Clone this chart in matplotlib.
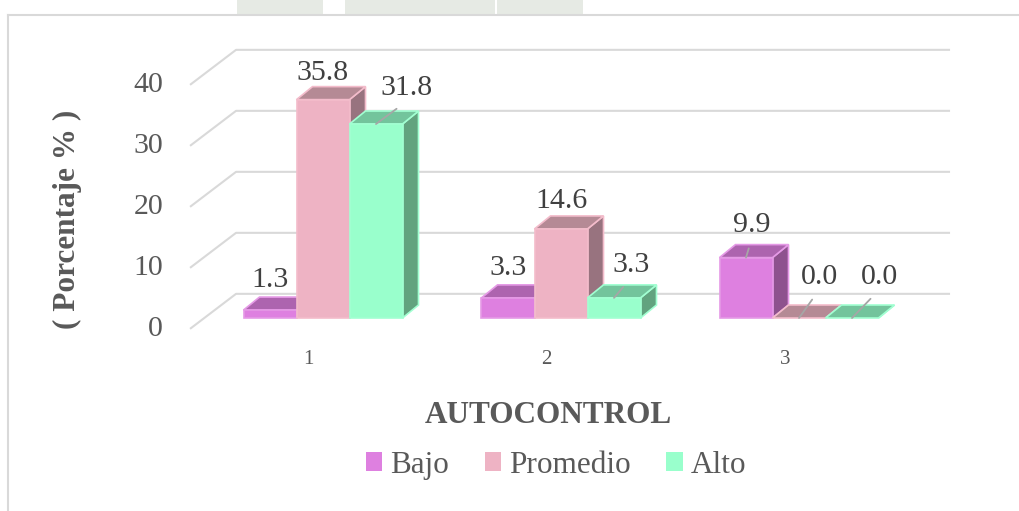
import matplotlib.pyplot as plt
from matplotlib.patches import Polygon, Patch, Rectangle
from matplotlib.lines import Line2D
import numpy as np

# data
categories = ['1', '2', '3']
series_names = ['Bajo', 'Promedio', 'Alto']
bajo = [1.3, 3.3, 9.9]
promedio = [35.8, 14.6, 0.0]
alto = [31.8, 3.3, 0.0]
yticks = [0, 10, 20, 30, 40]
x_title = 'AUTOCONTROL'
y_title = '( Porcentaje % )'

# face colours: front, top, side
colors = {
    'Bajo': ('#DE80E0', '#AD64AF', '#8E528E'),
    'Promedio': ('#EEB3C4', '#B58A95', '#98737F'),
    'Alto': ('#99FFCC', '#73C49C', '#62A37F'),
}
edge_colors = {'Bajo': '#E59AE6', 'Promedio': '#F3BCCB', 'Alto': '#A2FFD2'}

# label offsets (pixels) and leader-line flags, per series per category
label_offsets = {
    'Bajo': [(0, 30), (0, 30), (6, 33)],
    'Promedio': [(0, 27), (1, 28), (20, 41)],
    'Alto': [(31, 36), (17, 33), (27, 41)],
}
leaders = {
    'Bajo': [False, False, True],
    'Promedio': [False, False, True],
    'Alto': [True, True, True],
}

W_PX, H_PX = 1019, 511
PX_X = 238.0   # pixels per category step
PX_Y = 6.1     # pixels per percent
X0_PX, Y0_PX = 323, 318   # pixel position of category 1 / value 0 on bar front plane

depth_x, depth_y = 46 / PX_X, 35 / PX_Y   # full floor depth
front_frac = 0.31                         # bar front plane within floor depth
bar_dx, bar_dy = 16 / PX_X, 13 / PX_Y     # bar depth
bar_w = 53 / PX_X
floor_left = -0.357 + 190 / PX_X
floor_right = -0.357 + 904 / PX_X

text_col = '#595959'
font = 'Liberation Serif'

fig = plt.figure(figsize=(W_PX / 100, H_PX / 100), dpi=100)
ax = fig.add_axes([0, 0, 1, 1])
ax.set_xlim(1 - X0_PX / PX_X, 1 + (W_PX - X0_PX) / PX_X)
ax.set_ylim(-(H_PX - Y0_PX) / PX_Y, Y0_PX / PX_Y)
ax.axis('off')

# chart border and faint page watermark strip above it
for left, width in [(237, 86), (345, 150), (497, 86)]:
    fig.add_artist(Rectangle((left / W_PX, 1 - 14 / H_PX), width / W_PX, 14 / H_PX,
                             transform=fig.transFigure, color='#E6EAE4', lw=0))
fig.add_artist(Line2D([8 / W_PX, 1], [1 - 15 / H_PX] * 2, transform=fig.transFigure,
                      color='#D9D9D9', lw=1.5))
fig.add_artist(Line2D([8 / W_PX] * 2, [0, 1 - 15 / H_PX], transform=fig.transFigure,
                      color='#D9D9D9', lw=1.5))

# gridlines: left wall diagonal plus back wall
fy = -front_frac * depth_y
by = (1 - front_frac) * depth_y
for t in yticks:
    ax.plot([floor_left, floor_left + depth_x, floor_right + depth_x],
            [t + fy, t + by, t + by], color='#D9D9D9', lw=1.5, zorder=1,
            solid_capstyle='butt')
    ax.annotate(str(t), (floor_left, t + fy), xytext=(-27, 0), textcoords='offset pixels',
                ha='right', va='center', fontsize=21.5, family=font, color=text_col)

for i, c in enumerate(categories):
    ax.annotate(c, (i + 1 - front_frac * depth_x, fy), xytext=(0, -31),
                textcoords='offset pixels', ha='center', va='center',
                fontsize=15, family=font, color=text_col)

values = {'Bajo': bajo, 'Promedio': promedio, 'Alto': alto}

for i in range(len(categories)):
    for s, name in enumerate(series_names):
        v = values[name][i]
        x0 = i + 1 - 1.5 * bar_w + s * bar_w
        x1 = x0 + bar_w
        front, top, side = colors[name]
        ec = edge_colors[name]
        z = 3 + s
        side_poly = [(x1, 0), (x1 + bar_dx, bar_dy), (x1 + bar_dx, v + bar_dy), (x1, v)]
        top_poly = [(x0, v), (x1, v), (x1 + bar_dx, v + bar_dy), (x0 + bar_dx, v + bar_dy)]
        ax.add_patch(Polygon(side_poly, closed=True, fc=side, ec=ec, lw=1.2, zorder=z))
        ax.add_patch(Polygon(top_poly, closed=True, fc=top, ec=ec, lw=1.2, zorder=z))
        if v > 0:
            ax.add_patch(Rectangle((x0, 0), bar_w, v, fc=front, ec=ec, lw=1.2, zorder=z))

        xc = (x0 + x1) / 2
        off = label_offsets[name][i]
        props = None
        if leaders[name][i]:
            props = dict(arrowstyle='-', color='#A6A6A6', lw=1.3, relpos=(0.5, 0),
                         shrinkA=6, shrinkB=0)
        ax.annotate(f'{v:.1f}', (xc, v), xytext=off, textcoords='offset pixels',
                    ha='center', va='center', fontsize=21.5, family=font,
                    color='#404040', arrowprops=props, zorder=10)

# axis titles
fig.text(67 / W_PX, 1 - 219 / H_PX, y_title, rotation=90, ha='center', va='center',
         fontsize=22.5, fontweight='bold', family=font, color=text_col)
fig.text(548 / W_PX, 1 - 415 / H_PX, x_title, ha='center', va='center',
         fontsize=22.5, fontweight='bold', family=font, color=text_col)

handles = [Patch(facecolor=colors[n][0], edgecolor='none', label=n) for n in series_names]
leg = fig.legend(handles=handles, loc='center', bbox_to_anchor=(556 / W_PX, 1 - 465 / H_PX),
                 ncol=3, frameon=False, handlelength=0.52, handleheight=0.52,
                 handletextpad=0.25, columnspacing=1.15, borderpad=0,
                 prop={'family': font, 'size': 22.5})
for txt in leg.get_texts():
    txt.set_color(text_col)

fig.savefig('out.png', dpi=100)
